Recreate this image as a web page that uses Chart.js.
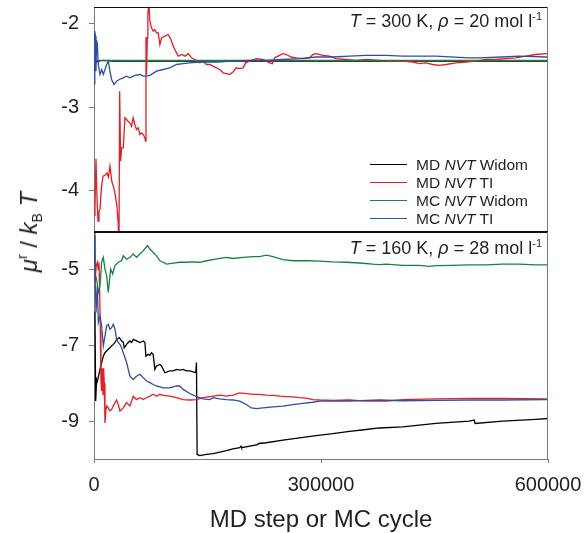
<!DOCTYPE html>
<html>
<head>
<meta charset="utf-8">
<script src="https://cdn.jsdelivr.net/npm/chart.js@4.4.1/dist/chart.umd.min.js"></script>
<style>
html,body{margin:0;padding:0;background:#fff;}
#wrap{position:relative;width:585px;height:533px;overflow:hidden;font-family:"Liberation Sans",Arial,Helvetica,sans-serif;color:#231f20;}
canvas{position:absolute;left:0;}
#cTop{top:0;}
#cBot{top:226px;}
.ann{position:absolute;right:43px;font-size:18px;line-height:18px;white-space:nowrap;}
.ann sup{font-size:11px;line-height:0;vertical-align:0;position:relative;top:-7px;}
#ylab{position:absolute;left:29px;top:232px;transform:translate(-50%,-50%) rotate(-90deg);font-size:24px;line-height:24px;white-space:nowrap;}
#ylab sup{font-size:14px;line-height:0;vertical-align:0;position:relative;top:-10px;}
#ylab sub{font-size:14px;line-height:0;vertical-align:0;position:relative;top:5px;}
.leg{position:absolute;left:370px;height:18px;line-height:18px;font-size:15.5px;white-space:nowrap;}
.leg .ln{display:inline-block;width:37px;height:0;border-top:1.5px solid #000;vertical-align:middle;margin-right:9px;position:relative;top:-1px;}
</style>
</head>
<body>
<div id="wrap">
  <canvas id="cTop" width="585" height="240"></canvas>
  <canvas id="cBot" width="585" height="307"></canvas>
  <div class="ann" style="top:12px"><i>T</i> = 300 K, <i>ρ</i> = 20 mol l<sup>-1</sup></div>
  <div class="ann" style="top:239px"><i>T</i> = 160 K, <i>ρ</i> = 28 mol l<sup>-1</sup></div>
  <div id="ylab"><i>μ</i><sup>r</sup> / <i>k</i><sub>B</sub> <i>T</i></div>
  <div id="legend"></div>
</div>
<script>
// ---------- tick labels / categories ----------
const xTicks = [0, 300000, 600000];
const topYTicks = [-4, -3, -2];
const bottomYTicks = [-9, -7, -5];
const seriesNames = ['MD <i>NVT</i> Widom', 'MD <i>NVT</i> TI', 'MC <i>NVT</i> Widom', 'MC <i>NVT</i> TI'];
const seriesColors = ['#000000', '#ec1c24', '#17823c', '#2e4ea4'];

// ---------- top panel: T = 300 K, rho = 20 mol/l ----------
const topMdWidomX = [0, 1500, 3000, 6000, 12000, 25000, 50000, 100000, 200000, 300000, 400000, 500000, 600000];
const topMdWidomY = [-2.47, -2.43, -2.46, -2.45, -2.44, -2.45, -2.45, -2.45, -2.45, -2.45, -2.45, -2.45, -2.45];

const topMdTiX = [0,1300,2600,4000,5300,6600,7900,10000,11900,14500,17100,19000,21100,23700,25500,27700,30300,32000,33000,33900,35200,36500,38700,40900,43000,45000,47400,49600,51800,54000,56200,58400,60600,62800,65000,67200,68000,68700,69400,70500,71200,72500,73800,76000,78200,80400,82600,84900,87100,89300,93700,98100,101700,104800,107900,111400,115800,120200,124600,129000,133400,139800,144200,148600,153000,157400,161800,166200,170600,174900,179300,183700,188100,192500,196900,200400,205700,214500,223300,232100,235600,238700,243100,249700,254100,260700,267300,276100,284800,289200,293600,302400,311200,320000,333200,346400,359600,377100,390300,407900,421100,429900,438700,447500,456300,465100,478300,491400,504600,517800,531000,544200,557400,570600,583700,596900,600000];
const topMdTiY = [-4.30,-4.19,-3.62,-4.10,-4.37,-4.25,-4.23,-3.95,-3.83,-3.82,-3.79,-3.84,-3.71,-3.90,-3.95,-4.03,-4.19,-4.40,-4.70,-2.81,-3.65,-3.49,-3.49,-3.13,-3.15,-3.17,-3.19,-3.23,-3.13,-3.21,-3.27,-3.25,-3.33,-3.31,-3.33,-3.37,-3.41,-2.16,-2.61,-2.17,-1.89,-1.75,-1.97,-2.05,-2.09,-2.07,-2.11,-2.11,-2.25,-2.17,-2.15,-2.13,-2.19,-2.27,-2.33,-2.39,-2.37,-2.39,-2.36,-2.41,-2.43,-2.47,-2.45,-2.49,-2.49,-2.51,-2.53,-2.55,-2.59,-2.60,-2.61,-2.58,-2.53,-2.54,-2.53,-2.47,-2.45,-2.42,-2.43,-2.47,-2.48,-2.41,-2.39,-2.36,-2.37,-2.40,-2.41,-2.42,-2.41,-2.37,-2.36,-2.38,-2.39,-2.42,-2.43,-2.44,-2.43,-2.44,-2.45,-2.45,-2.46,-2.48,-2.47,-2.49,-2.50,-2.49,-2.47,-2.46,-2.45,-2.43,-2.43,-2.42,-2.41,-2.39,-2.37,-2.36,-2.36];

const topMcWidomX = [0, 1500, 3000, 6000, 12000, 25000, 50000, 100000, 200000, 300000, 400000, 500000, 600000];
const topMcWidomY = [-2.42, -2.45, -2.44, -2.44, -2.44, -2.44, -2.44, -2.44, -2.44, -2.44, -2.44, -2.44, -2.44];

const topMcTiX = [0,700,1300,2000,2600,3500,4400,5700,7900,10100,12300,14500,16700,18900,21100,23300,26400,29900,33400,38700,43000,47500,54000,60700,65000,69500,73800,82600,91400,100200,109000,117800,126600,139800,153000,161800,183700,205700,227700,249700,271700,293600,315600,337600,359600,385900,407900,429900,451900,495800,509000,539800,561800,596900,600000];
const topMcTiY = [-2.45,-2.73,-2.09,-2.15,-2.57,-2.20,-2.25,-2.49,-2.61,-2.55,-2.61,-2.55,-2.49,-2.45,-2.57,-2.67,-2.73,-2.69,-2.67,-2.65,-2.63,-2.65,-2.62,-2.61,-2.63,-2.63,-2.62,-2.57,-2.55,-2.53,-2.49,-2.48,-2.47,-2.46,-2.46,-2.46,-2.45,-2.44,-2.44,-2.43,-2.42,-2.40,-2.40,-2.39,-2.38,-2.38,-2.39,-2.39,-2.39,-2.41,-2.41,-2.40,-2.39,-2.40,-2.40];

// ---------- bottom panel: T = 160 K, rho = 28 mol/l ----------
const botMdWidomX = [1300,2200,3500,4400,7900,12300,14500,18900,21100,23300,25500,27700,29900,33400,36500,38700,40000,40900,43100,45300,47500,49700,51900,56300,60700,65100,67300,68600,71700,73900,76000,78200,80400,82600,87000,89200,93600,100200,104600,109000,113400,117800,122200,126600,131000,134500,135400,136300,139800,148600,157400,166200,174900,183700,192500,194300,195000,216300,217600,227700,249700,271700,293600,315600,337600,359600,377100,407900,451900,495800,502400,503700,539800,583700,600000];
const botMdWidomY = [-6.10,-8.47,-7.90,-7.95,-7.63,-7.28,-7.19,-7.10,-7.06,-7.01,-6.97,-6.92,-6.84,-6.79,-6.88,-6.91,-7.06,-7.06,-6.97,-6.92,-6.88,-6.92,-6.84,-6.88,-6.92,-6.88,-6.92,-7.28,-7.23,-7.26,-7.19,-7.23,-7.63,-7.54,-7.50,-7.54,-7.72,-7.67,-7.67,-7.63,-7.65,-7.63,-7.67,-7.67,-7.70,-7.72,-7.45,-9.88,-9.91,-9.88,-9.86,-9.82,-9.78,-9.73,-9.70,-9.66,-9.70,-9.62,-9.59,-9.57,-9.50,-9.44,-9.38,-9.33,-9.27,-9.22,-9.18,-9.15,-9.06,-9.00,-8.97,-9.06,-9.00,-8.95,-8.93];

const botMdTiX = [0,1300,3000,4400,5700,6600,7500,8300,9200,10100,11000,11900,12700,13600,14500,15800,16700,18900,21100,23300,25500,27690,29890,32090,34290,36480,38680,43080,47470,51870,56270,60660,65060,69450,73850,78250,82640,87030,91430,100220,109010,117800,126600,135380,144180,152970,157360,166160,174940,183740,192530,201320,210110,218900,227700,236490,245280,254070,262860,271650,280450,289240,298030,315600,337580,359570,377150,385940,407910,451870,495830,539790,596940,600000];
const botMdTiY = [-4.60,-5.30,-4.90,-4.80,-5.00,-4.80,-5.60,-6.60,-7.90,-8.20,-7.60,-8.30,-7.60,-8.00,-9.05,-8.70,-8.60,-8.65,-8.73,-8.69,-8.60,-8.51,-8.44,-8.56,-8.73,-8.69,-8.65,-8.51,-8.60,-8.34,-8.43,-8.38,-8.43,-8.38,-8.34,-8.29,-8.34,-8.29,-8.32,-8.34,-8.38,-8.43,-8.44,-8.43,-8.38,-8.35,-8.34,-8.31,-8.34,-8.31,-8.25,-8.27,-8.29,-8.29,-8.31,-8.32,-8.34,-8.35,-8.36,-8.38,-8.39,-8.43,-8.44,-8.45,-8.44,-8.47,-8.47,-8.47,-8.43,-8.41,-8.40,-8.40,-8.41,-8.41];

const botMcWidomX = [0,1300,3560,5670,7910,10150,12260,14510,16750,18860,20180,22020,24660,27690,32040,36530,38640,43120,47470,51820,56310,60660,65010,68570,70810,73850,78200,82680,87030,91390,95870,104570,113410,122240,130950,139780,148620,157360,166160,174940,183740,196920,210110,218900,227700,236490,249670,262860,280450,298030,315600,333200,350770,368360,377150,385940,407910,429900,443080,451870,473850,495830,517810,539790,561770,583750,600000];
const botMcWidomY = [-4.01,-5.10,-5.25,-5.60,-5.42,-4.80,-4.67,-4.98,-5.16,-5.60,-5.33,-4.98,-5.11,-4.89,-4.80,-4.76,-4.63,-4.72,-4.67,-4.58,-4.67,-4.58,-4.50,-4.41,-4.36,-4.45,-4.54,-4.63,-4.76,-4.80,-4.85,-4.82,-4.80,-4.80,-4.79,-4.80,-4.76,-4.73,-4.70,-4.67,-4.70,-4.67,-4.65,-4.65,-4.61,-4.65,-4.73,-4.76,-4.76,-4.77,-4.79,-4.80,-4.82,-4.85,-4.86,-4.85,-4.88,-4.88,-4.91,-4.89,-4.88,-4.87,-4.87,-4.85,-4.85,-4.87,-4.87];

const botMcTiX = [0,1320,2640,4400,5710,7910,10110,12310,14510,16700,18900,21100,23300,25500,27690,29890,32090,34290,36480,38680,43080,45280,47470,51870,56270,60660,65060,69450,73850,78250,82640,91430,100220,109010,113410,117800,126600,135380,144180,152970,157360,166160,174940,183740,192530,201320,207920,214510,223300,236490,249670,262860,276050,289240,298030,315600,337580,359570,377150,407910,451870,495830,539790,596940,600000];
const botMcTiY = [-4.10,-5.07,-6.13,-5.42,-6.39,-6.22,-6.48,-7.01,-6.75,-6.48,-6.44,-6.57,-6.53,-6.44,-6.57,-6.84,-6.92,-6.97,-7.06,-7.19,-7.45,-7.63,-7.81,-7.90,-7.81,-7.76,-7.85,-7.94,-7.98,-8.03,-8.07,-8.12,-8.12,-8.07,-8.07,-8.16,-8.27,-8.35,-8.41,-8.43,-8.38,-8.41,-8.43,-8.44,-8.47,-8.56,-8.65,-8.67,-8.65,-8.62,-8.60,-8.56,-8.53,-8.50,-8.47,-8.47,-8.47,-8.45,-8.44,-8.46,-8.45,-8.44,-8.44,-8.43,-8.43];

// ---------- helpers ----------
const FONT = '"Liberation Sans", Arial, Helvetica, sans-serif';
const TXT = '#231f20';
const AXIS = '#7a7a7a';
const pts = (xs, ys) => xs.map((x, i) => ({ x: x, y: ys[i] }));
const line = (idx, xs, ys) => ({
  label: seriesNames[idx].replace(/<[^>]+>/g, ''),
  data: pts(xs, ys),
  borderColor: seriesColors[idx],
  backgroundColor: seriesColors[idx],
  borderWidth: 1.3,
  pointRadius: 0,
  tension: 0,
  fill: false,
  order: 4 - idx
});

const framePlugin = {
  id: 'frame',
  afterDraw(chart, args, opts) {
    const { ctx, chartArea: a } = chart;
    ctx.save();
    ctx.lineWidth = 1;
    const seg = (x1, y1, x2, y2, c) => { ctx.strokeStyle = c; ctx.beginPath(); ctx.moveTo(x1, y1); ctx.lineTo(x2, y2); ctx.stroke(); };
    if (opts.top) seg(Math.round(a.left), Math.round(a.top) + 0.5, Math.round(a.right), Math.round(a.top) + 0.5, opts.top);
    if (opts.right) seg(Math.round(a.right) - 0.5, Math.round(a.top), Math.round(a.right) - 0.5, Math.round(a.bottom), opts.right);
    if (opts.bottom) seg(Math.round(a.left), Math.round(a.bottom) - 0.5, Math.round(a.right), Math.round(a.bottom) - 0.5, opts.bottom);
    ctx.restore();
  }
};

const zeroPad = s => { s.paddingTop = 0; s.paddingBottom = 0; s.paddingLeft = 0; s.paddingRight = 0; };

const yScale = (min, max, tickVals) => ({
  type: 'linear',
  min: min, max: max,
  afterBuildTicks: s => { s.ticks = tickVals.map(v => ({ value: v })); },
  afterFit: s => { s.width = 94; zeroPad(s); },
  ticks: { font: { family: FONT, size: 20 }, color: TXT, padding: 10, callback: v => String(v) },
  grid: { display: true, drawOnChartArea: false, drawTicks: true, tickLength: 5, color: AXIS },
  border: { display: true, color: AXIS, width: 1 }
});

const common = {
  responsive: false,
  animation: false,
  events: [],
  plugins: { legend: { display: false }, tooltip: { enabled: false } }
};

new Chart(document.getElementById('cTop'), {
  type: 'line',
  data: { datasets: [
    line(0, topMdWidomX, topMdWidomY),
    line(1, topMdTiX, topMdTiY),
    line(2, topMcWidomX, topMcWidomY),
    line(3, topMcTiX, topMcTiY)
  ] },
  options: Object.assign({}, common, {
    layout: { padding: { left: 0, top: 7, right: 37, bottom: 8 } },
    plugins: Object.assign({}, common.plugins, { frame: { top: '#111', right: AXIS, bottom: '#111' } }),
    scales: {
      x: { type: 'linear', min: 0, max: 600000, display: false },
      y: yScale(-4.5, -1.8, topYTicks)
    }
  }),
  plugins: [framePlugin]
});

new Chart(document.getElementById('cBot'), {
  type: 'line',
  data: { datasets: [
    line(0, botMdWidomX, botMdWidomY),
    line(1, botMdTiX, botMdTiY),
    line(2, botMcWidomX, botMcWidomY),
    line(3, botMcTiX, botMcTiY)
  ] },
  options: Object.assign({}, common, {
    layout: { padding: { left: 0, top: 6, right: 37, bottom: 0 } },
    plugins: Object.assign({}, common.plugins, { frame: { top: '#111', right: AXIS } }),
    scales: {
      x: {
        type: 'linear', min: 0, max: 600000,
        afterBuildTicks: s => { s.ticks = xTicks.map(v => ({ value: v })); },
        afterFit: s => { s.height = 74; zeroPad(s); },
        ticks: { font: { family: FONT, size: 20 }, color: TXT, padding: 10, maxRotation: 0, callback: v => String(v) },
        grid: { display: true, drawOnChartArea: false, drawTicks: true, tickLength: 4, color: AXIS },
        border: { display: true, color: AXIS, width: 1 },
        title: { display: true, text: 'MD step or MC cycle', color: TXT, font: { family: FONT, size: 24, lineHeight: 1 }, padding: { top: 0, bottom: 1 } }
      },
      y: yScale(-10, -4, bottomYTicks)
    }
  }),
  plugins: [framePlugin]
});

// legend (HTML, mixed italic text)
const legendTops = [156, 174, 192, 210];
const legEl = document.getElementById('legend');
seriesNames.forEach((name, i) => {
  const d = document.createElement('div');
  d.className = 'leg';
  d.style.top = legendTops[i] + 'px';
  d.innerHTML = '<span class="ln" style="border-top-color:' + seriesColors[i] + '"></span>' + name;
  legEl.appendChild(d);
});
</script>
</body>
</html>
